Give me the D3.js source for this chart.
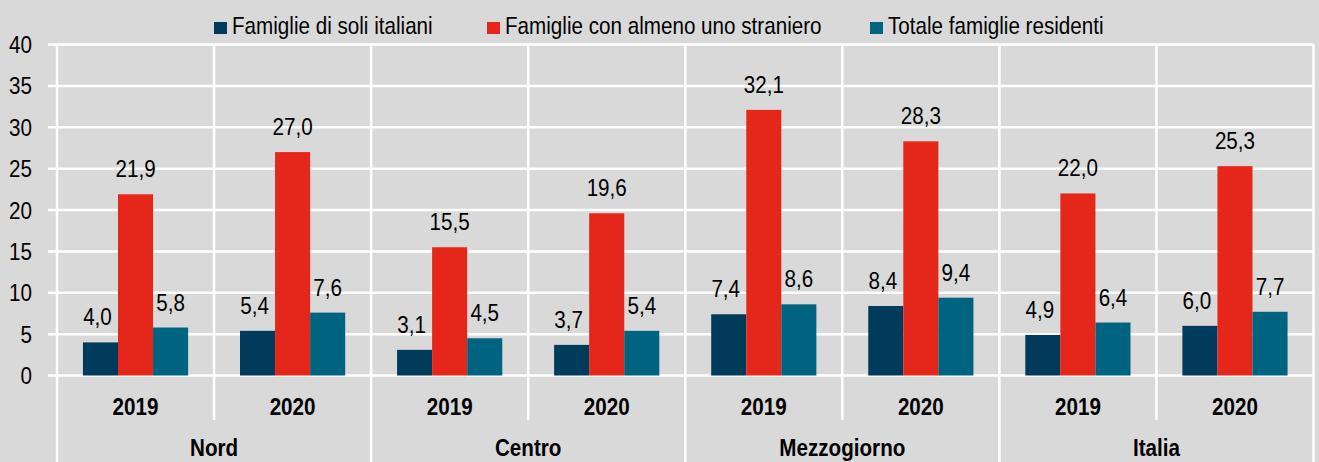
<!DOCTYPE html>
<html><head><meta charset="utf-8">
<script src="https://cdn.jsdelivr.net/npm/d3@7"></script>
<style>
html,body{margin:0;padding:0;background:#d9d9d9;}
svg{display:block;}
text{font-family:"Liberation Sans",Arial,sans-serif;fill:#000;}
</style></head>
<body>
<script>
const regions = ["Nord", "Centro", "Mezzogiorno", "Italia"];
const years = ["2019", "2020"];
const seriesNames = ["Famiglie di soli italiani", "Famiglie con almeno uno straniero", "Totale famiglie residenti"];
const italiani = [4.0, 5.4, 3.1, 3.7, 7.4, 8.4, 4.9, 6.0];
const stranieri = [21.9, 27.0, 15.5, 19.6, 32.1, 28.3, 22.0, 25.3];
const totale = [5.8, 7.6, 4.5, 5.4, 8.6, 9.4, 6.4, 7.7];
const yTicks = [0, 5, 10, 15, 20, 25, 30, 35, 40];
const colors = ["#003b5c", "#e4261b", "#00637f"];

const W = 1319, H = 462;
const plotL = 57, plotR = 1313.5, plotT = 44.5, zeroY = 375.5;
const SX = 0.86, FS = 24;
const svg = d3.select("body").append("svg").attr("width", W).attr("height", H);
svg.append("rect").attr("width", W).attr("height", H).attr("fill", "#d9d9d9");

const cats = [];
regions.forEach(r => years.forEach(y => cats.push(r + "|" + y)));
const x0 = d3.scaleBand().domain(cats).range([plotL, plotR]).padding(0);
const xr = d3.scaleBand().domain(regions).range([plotL, plotR]).padding(0);
const x1 = d3.scaleBand().domain(seriesNames).range([0, x0.bandwidth()]).paddingInner(0).paddingOuter(0.74);
const y = d3.scaleLinear().domain([0, 40]).range([zeroY, plotT]);
const loc = d3.formatLocale({decimal: ",", thousands: ".", grouping: [3], currency: ["", "€"]});
const fmt = loc.format(".1f");
const tr = (x, yy) => `translate(${x},${yy}) scale(${SX},1)`;

// grid
const g = svg.append("g");
g.selectAll(".h").data(yTicks).join("line")
  .attr("x1", plotL - 9).attr("x2", plotR).attr("y1", d => y(d)).attr("y2", d => y(d))
  .attr("stroke", "#fff").attr("stroke-width", 2.5);
const yearEdges = cats.map(c => x0(c)).concat([plotR]);
g.selectAll(".v").data(yearEdges).join("line")
  .attr("x1", d => d).attr("x2", d => d).attr("y1", plotT)
  .attr("y2", (d, i) => i % 2 === 0 ? H : 420)
  .attr("stroke", "#fff").attr("stroke-width", 2.5);

// y labels
svg.selectAll(".yl").data(yTicks).join("text")
  .attr("transform", d => tr(32, y(d) + 8.5)).attr("text-anchor", "end")
  .attr("font-size", FS).text(d => d);

// bars
const all = [italiani, stranieri, totale];
const data = [];
cats.forEach((c, i) => all.forEach((arr, s) => data.push({c, s, v: arr[i]})));
svg.selectAll(".bar").data(data).join("rect")
  .attr("x", d => x0(d.c) + x1(seriesNames[d.s]))
  .attr("width", x1.bandwidth())
  .attr("y", d => y(d.v)).attr("height", d => zeroY - y(d.v))
  .attr("fill", d => colors[d.s]);
svg.selectAll(".vl").data(data).join("text")
  .attr("transform", d => tr(x0(d.c) + x1(seriesNames[d.s]) + x1.bandwidth() / 2 + (d.s === 0 ? -3 : 0), y(d.v) - 17))
  .attr("text-anchor", "middle")
  .attr("font-size", FS).text(d => fmt(d.v));

// x labels
svg.selectAll(".yr").data(cats).join("text")
  .attr("transform", d => tr(x0(d) + x0.bandwidth() / 2, 415))
  .attr("text-anchor", "middle").attr("font-size", FS).attr("font-weight", "bold")
  .text(d => d.split("|")[1]);
svg.selectAll(".rg").data(regions).join("text")
  .attr("transform", d => tr(xr(d) + xr.bandwidth() / 2, 456))
  .attr("text-anchor", "middle").attr("font-size", FS).attr("font-weight", "bold")
  .text(d => d);

// legend
const legX = [214, 487, 870];
const lg = svg.selectAll(".lg").data(seriesNames).join("g")
  .attr("transform", (d, i) => `translate(${legX[i]},0)`);
lg.append("rect").attr("x", 0).attr("y", 22).attr("width", 13).attr("height", 12)
  .attr("fill", (d, i) => colors[i]);
lg.append("text").attr("transform", tr(18, 34)).attr("font-size", FS).text(d => d);
</script>
</body></html>
